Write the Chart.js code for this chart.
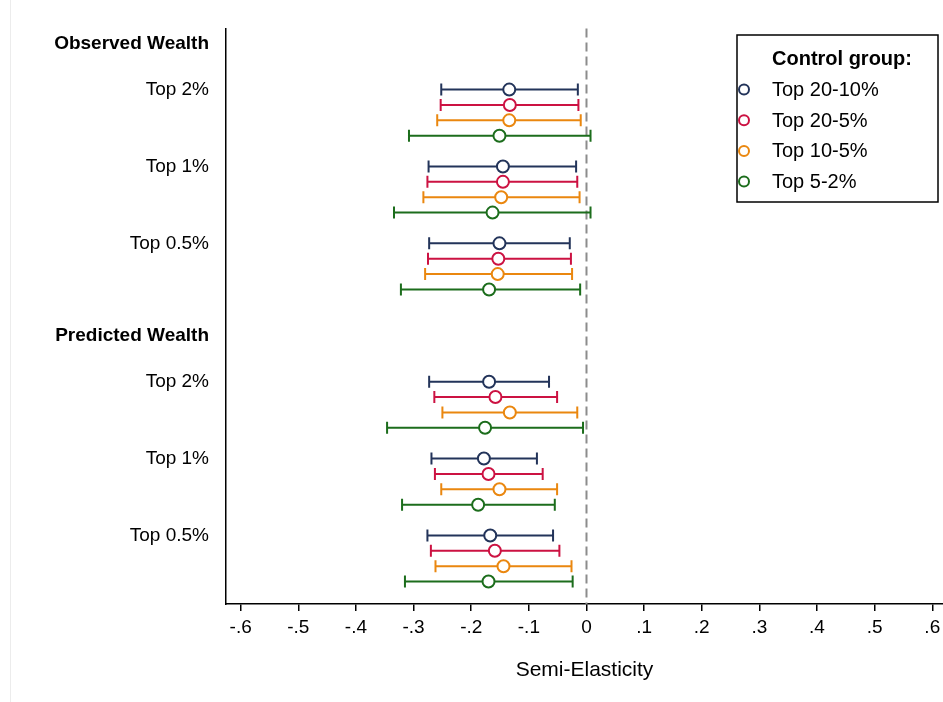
<!DOCTYPE html>
<html>
<head>
<meta charset="utf-8">
<script src="https://cdn.jsdelivr.net/npm/chart.js@4.4.1/dist/chart.umd.min.js"></script>
<style>
  body { margin: 0; background: #fff; }
  #wrap { width: 943px; height: 702px; position: relative; }
</style>
</head>
<body>
<div id="wrap"><canvas id="coefplot"></canvas></div>
<script>
const panels = ['Observed Wealth', 'Predicted Wealth']
const groups = ['Top 2%', 'Top 1%', 'Top 0.5%']
const seriesNames = ['Top 20-10%', 'Top 20-5%', 'Top 10-5%', 'Top 5-2%']
const seriesColors = ['#23345a', '#cc1242', '#ea870f', '#1c6d1c']

// point estimates, one per (panel, group): observed 2/1/0.5, predicted 2/1/0.5
const coefTop20_10 = [-0.134, -0.145, -0.151, -0.169, -0.178, -0.167]
const coefTop20_5  = [-0.133, -0.145, -0.153, -0.158, -0.170, -0.159]
const coefTop10_5  = [-0.134, -0.148, -0.154, -0.133, -0.151, -0.144]
const coefTop5_2   = [-0.151, -0.163, -0.169, -0.176, -0.188, -0.170]

// lower / upper confidence bounds
const loTop20_10 = [-0.252, -0.274, -0.273, -0.273, -0.269, -0.276]
const loTop20_5  = [-0.253, -0.276, -0.275, -0.264, -0.263, -0.270]
const loTop10_5  = [-0.259, -0.283, -0.280, -0.250, -0.252, -0.262]
const loTop5_2   = [-0.308, -0.334, -0.322, -0.346, -0.320, -0.315]

const hiTop20_10 = [-0.015, -0.018, -0.029, -0.065, -0.086, -0.058]
const hiTop20_5  = [-0.014, -0.016, -0.027, -0.051, -0.076, -0.047]
const hiTop10_5  = [-0.010, -0.012, -0.025, -0.016, -0.051, -0.026]
const hiTop5_2   = [0.007, 0.007, -0.011, -0.006, -0.055, -0.024]

const xTickValues = [-0.6, -0.5, -0.4, -0.3, -0.2, -0.1, 0, 0.1, 0.2, 0.3, 0.4, 0.5, 0.6]
const xTickLabels = ['-.6', '-.5', '-.4', '-.3', '-.2', '-.1', '0', '.1', '.2', '.3', '.4', '.5', '.6']

const coefs = [coefTop20_10, coefTop20_5, coefTop10_5, coefTop5_2]
const lows = [loTop20_10, loTop20_5, loTop10_5, loTop5_2]
const highs = [hiTop20_10, hiTop20_5, hiTop10_5, hiTop5_2]

const FONT = 'Liberation Sans, Arial, Helvetica, sans-serif'

// row slots on the y scale: header, blank, blank, then groups of 4 rows with a gap
function headerSlot(p) { return p * 19 }
function groupSlot(p, g) { return p * 19 + 3 + g * 5 }
function rowSlot(k, s) {
    let p = Math.floor(k / groups.length)
    let g = k % groups.length
    return groupSlot(p, g) + s
}

let yTicks = []
panels.forEach((name, p) => {
    yTicks.push({ value: headerSlot(p), label: name, bold: true })
    groups.forEach((gname, g) => {
        yTicks.push({ value: groupSlot(p, g), label: gname, bold: false })
    })
})

const datasets = seriesNames.map((name, s) => ({
    label: name,
    data: coefs[s].map((c, k) => ({ x: c, y: rowSlot(k, s) })),
    pointRadius: 6,
    pointHoverRadius: 6,
    pointBorderWidth: 2,
    pointBackgroundColor: '#fff',
    pointBorderColor: seriesColors[s],
    showLine: false
}))

const errorBars = {
    id: 'errorBars',
    beforeDatasetsDraw(chart) {
        const { ctx, chartArea, scales: { x, y } } = chart
        ctx.save()
        // dashed reference line at zero
        ctx.strokeStyle = '#8c8c8c'
        ctx.lineWidth = 2
        ctx.setLineDash([9, 5])
        ctx.beginPath()
        ctx.moveTo(x.getPixelForValue(0), chartArea.top)
        ctx.lineTo(x.getPixelForValue(0), chartArea.bottom)
        ctx.stroke()
        ctx.setLineDash([])

        seriesNames.forEach((name, s) => {
            ctx.strokeStyle = seriesColors[s]
            ctx.lineWidth = 2
            coefs[s].forEach((c, k) => {
                let py = y.getPixelForValue(rowSlot(k, s))
                let x0 = x.getPixelForValue(lows[s][k])
                let x1 = x.getPixelForValue(highs[s][k])
                ctx.beginPath()
                ctx.moveTo(x0, py)
                ctx.lineTo(x1, py)
                ctx.moveTo(x0, py - 6)
                ctx.lineTo(x0, py + 6)
                ctx.moveTo(x1, py - 6)
                ctx.lineTo(x1, py + 6)
                ctx.stroke()
            })
        })
        ctx.restore()
    }
}

const boxLegend = {
    id: 'boxLegend',
    afterDraw(chart) {
        const ctx = chart.ctx
        ctx.save()
        ctx.strokeStyle = '#000'
        ctx.lineWidth = 1.5
        ctx.strokeRect(737, 35, 201, 167)
        ctx.fillStyle = '#000'
        ctx.textBaseline = 'middle'
        ctx.font = 'bold 20px ' + FONT
        ctx.fillText('Control group:', 772, 59)
        ctx.font = '20px ' + FONT
        chart.data.datasets.forEach((ds, i) => {
            let cy = 89.5 + i * 30.7
            ctx.beginPath()
            ctx.arc(744, cy, 5, 0, Math.PI * 2)
            ctx.strokeStyle = ds.pointBorderColor
            ctx.lineWidth = 2
            ctx.stroke()
            ctx.fillStyle = '#000'
            ctx.fillText(ds.label, 772, cy + 1)
        })
        ctx.restore()
    }
}

const pageBackground = {
    id: 'pageBackground',
    beforeDraw(chart) {
        const ctx = chart.ctx
        ctx.save()
        ctx.fillStyle = '#fff'
        ctx.fillRect(0, 0, chart.width, chart.height)
        ctx.fillStyle = '#ececec'
        ctx.fillRect(10, 0, 1, chart.height)
        ctx.restore()
    }
}

new Chart(document.getElementById('coefplot'), {
    type: 'scatter',
    data: { datasets },
    plugins: [pageBackground, errorBars, boxLegend],
    options: {
        responsive: true,
        maintainAspectRatio: false,
        animation: false,
        layout: { autoPadding: false, padding: { top: 27, right: 0, bottom: 0, left: 0 } },
        plugins: { legend: { display: false }, tooltip: { enabled: false } },
        scales: {
            x: {
                type: 'linear',
                min: -0.6255,
                max: 0.6186,
                afterBuildTicks(scale) {
                    scale.ticks = xTickValues.map(v => ({ value: v }))
                },
                afterFit(scale) {
                    scale.height = 98
                    scale.paddingLeft = 0
                    scale.paddingRight = 0
                },
                ticks: {
                    callback: (v, i) => xTickLabels[i],
                    color: '#000',
                    font: { family: FONT, size: 19 },
                    padding: 5,
                    maxRotation: 0,
                    autoSkip: false
                },
                grid: { drawOnChartArea: false, tickLength: 7, color: '#000', lineWidth: 1.5 },
                border: { color: '#000', width: 1.5 },
                title: {
                    display: true,
                    text: 'Semi-Elasticity',
                    color: '#000',
                    font: { family: FONT, size: 21 },
                    padding: { top: 0, bottom: 19 }
                }
            },
            y: {
                type: 'linear',
                reverse: true,
                min: -0.98,
                max: 36.46,
                afterBuildTicks(scale) {
                    scale.ticks = yTicks.map(t => ({ value: t.value }))
                },
                afterFit(scale) { scale.width = 226 },
                ticks: {
                    callback: (v, i) => yTicks[i].label,
                    color: '#000',
                    font: (c) => ({
                        family: FONT,
                        size: 19,
                        weight: (c.index !== undefined && yTicks[c.index] && yTicks[c.index].bold) ? 'bold' : 'normal'
                    }),
                    padding: 17,
                    autoSkip: false
                },
                grid: { drawOnChartArea: false, drawTicks: false },
                border: { color: '#000', width: 1.5 }
            }
        }
    }
})
</script>
</body>
</html>
